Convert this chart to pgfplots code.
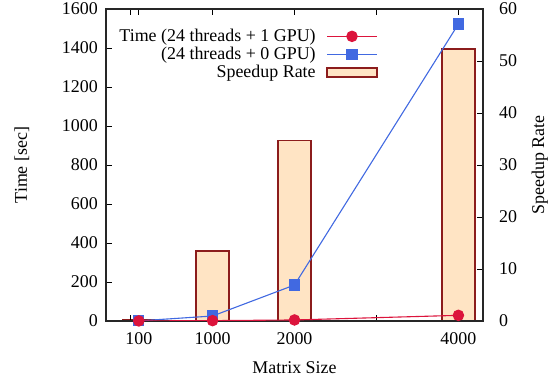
\documentclass[border=0pt]{standalone}
\usepackage{fontspec}
\setmainfont{Liberation Serif}
\usepackage{pgfplots}
\pgfplotsset{compat=1.18}
\definecolor{crim}{RGB}{220,20,60}
\definecolor{rblue}{RGB}{65,105,225}
\definecolor{bisq}{RGB}{255,228,196}
\definecolor{brd}{RGB}{140,28,28}
\begin{document}
\fontsize{18}{21}\selectfont
\begin{tikzpicture}
\path[use as bounding box] (0,0) rectangle (551bp,380bp);
\pgfplotsset{
  every axis/.append style={
    scale only axis, width=377bp, height=312bp,
    at={(106bp,59bp)}, anchor=south west,
    xmin=-300, xmax=4300,
    /pgf/number format/assume math mode=true,
    /pgf/number format/1000 sep={},
    tick align=inside,
    major tick length=6bp,
    axis line style={line width=1.1bp, draw=black!85},
    every tick/.style={line width=0.8bp, black},
    tick label style={font=\fontsize{18}{21}\selectfont},
    label style={font=\fontsize{18}{21}\selectfont},
  }
}
% bars on right axis
\begin{axis}[
  axis y line*=right,
  axis x line=none,
  ymin=0, ymax=60,
  ytick={0,10,...,60},
  yticklabel style={xshift=10bp},
  ylabel={Speedup Rate},
  ylabel style={at={(axis description cs:1.151,0.5)}, anchor=center, rotate=0},
]
\addplot[ybar, bar width=400, fill=bisq, draw=brd, line width=1.6bp] coordinates {
  (100,0.3) (1000,13.5) (2000,34.7) (4000,52.3)
};
\end{axis}
% lines on left axis
\begin{axis}[
  ymin=0, ymax=1600,
  ytick={0,200,...,1600},
  ytick pos=left,
  xtick={0,100,1000,2000,3000,4000},
  xticklabels={,100,1000,2000,,4000},
  xtick pos=both,
  xticklabel pos=lower,
  xticklabel style={yshift=-5bp},
  yticklabel style={xshift=-2bp},
  ylabel={Time [sec]},
  ylabel style={at={(axis description cs:-0.223,0.5)}, anchor=center},
  xlabel={Matrix Size},
  xlabel style={at={(axis description cs:0.5,-0.151)}, anchor=center},
  legend style={draw=none, fill=none, at={(axis description cs:0.7215,0.942)}, anchor=north east,
    font=\fontsize{18}{19}\selectfont, row sep=0bp, column sep=9bp, inner sep=0pt,
    nodes={inner sep=1.5bp}},
  legend cell align=right,
  legend plot pos=right,
  legend image code/.code={\draw[mark repeat=2,mark phase=2] plot coordinates {(0bp,0bp) (25bp,0bp) (50bp,0bp)};},
]
\addplot[rblue, line width=1.1bp, mark=square*, mark size=5bp, mark options={solid}, forget plot] coordinates {
  (100,0.6) (1000,25.6) (2000,184.6) (4000,1523)
};
\addplot[crim, line width=1.1bp, mark=*, mark size=5.2bp, mark options={solid}, forget plot] coordinates {
  (100,0.4) (1000,1.9) (2000,5.3) (4000,29)
};
\addlegendimage{crim, line width=1.1bp, mark=*, mark size=5.2bp}
\addlegendentry{Time (24 threads + 1 GPU)}
\addlegendimage{rblue, line width=1.1bp, mark=square*, mark size=5bp}
\addlegendentry{(24 threads + 0 GPU)}
\addlegendimage{legend image code/.code={\draw[fill=bisq, draw=brd, line width=1.6bp] (0bp,-4.5bp) rectangle (50bp,4.5bp);}}
\addlegendentry{Speedup Rate}
\end{axis}
\end{tikzpicture}
\end{document}
